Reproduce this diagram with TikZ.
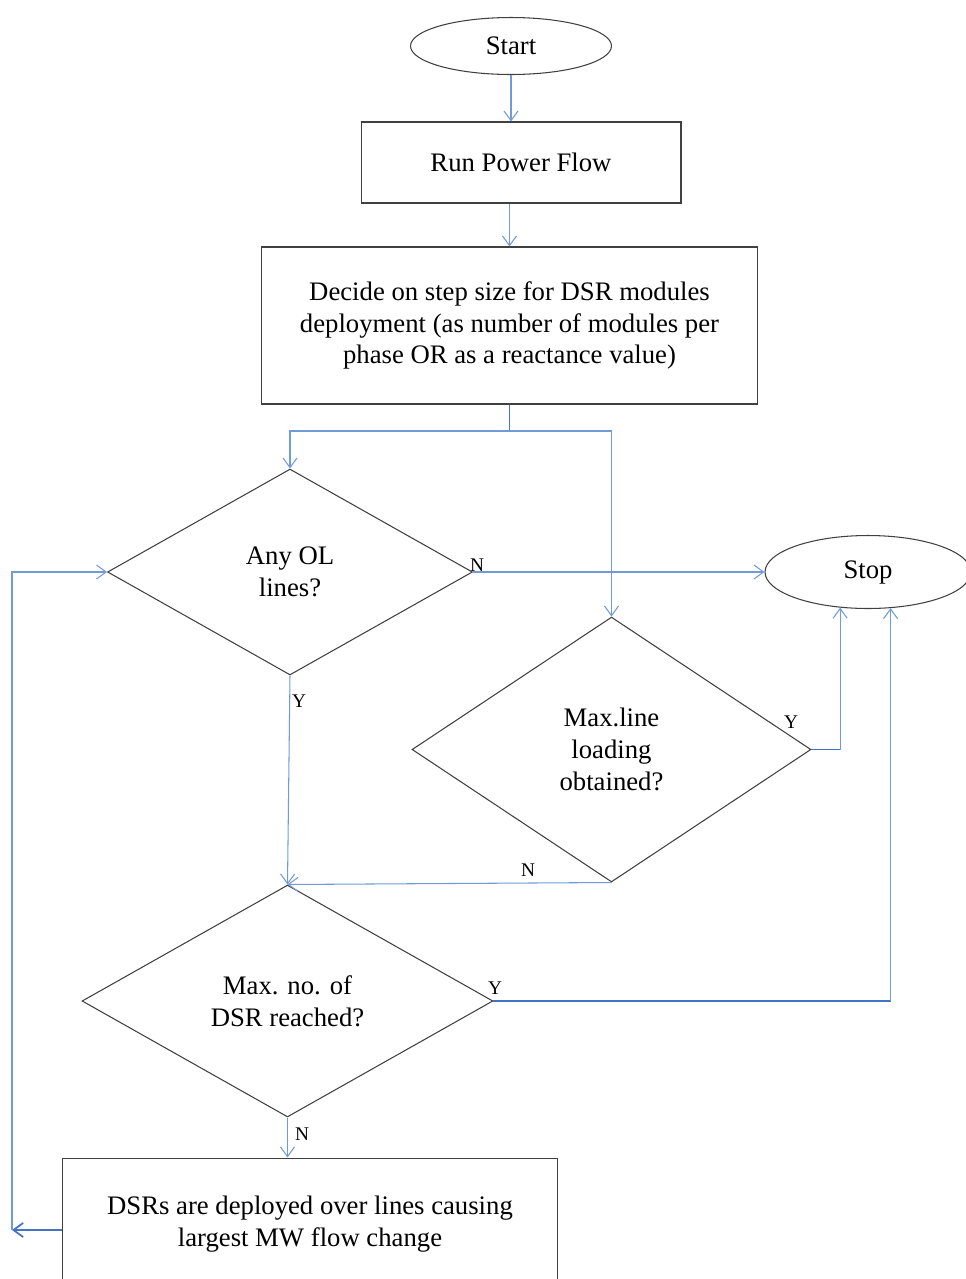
\documentclass[tikz,border=0pt]{standalone}
\usepackage{fontspec}
\setmainfont{Liberation Serif}
\usetikzlibrary{shapes.geometric,arrows.meta}
\definecolor{linkblue}{RGB}{112,155,214}
\definecolor{linkdark}{RGB}{68,114,196}
\tikzset{
  proc/.style={draw=black!75, line width=0.6pt, rectangle, align=center,
    font=\fontsize{15.2}{18}\selectfont},
  term/.style={draw=black!75, line width=0.6pt, ellipse, align=center,
    font=\fontsize{15.2}{18}\selectfont},
  decision/.style={draw=black!75, line width=0.6pt, diamond, aspect=1.6,
    inner sep=1pt, align=center, font=\fontsize{15.2}{18}\selectfont},
  link/.style={draw=linkblue, line width=0.6pt,
    -{Straight Barb[length=5.5pt,width=8pt]}},
  feed/.style={draw=linkdark, line width=1.1pt},
  yn/.style={font=\fontsize{11}{12}\selectfont, inner sep=0pt}
}

\begin{document}
\begin{tikzpicture}[x=0.02cm,y=-0.02cm]
    \clip (0,0) rectangle (966,1279);
    % blocks
    \node[term, minimum width=4.02cm, minimum height=1.14cm] (start) at (511,46) {Start};
    \node[proc, minimum width=6.4cm, minimum height=1.62cm] (pflow) at (521,162.5) {Run Power Flow};
    \node[proc, minimum width=9.94cm, minimum height=3.14cm] (step) at (509.5,325.5)
      {Decide on step size for DSR modules\\deployment (as number of modules per\\phase OR as a reactance value)};
    \node[decision, minimum width=7.3cm, minimum height=4.12cm] (anyol) at (290,572) {Any OL\\lines?};
    \node[term, minimum width=4.12cm, minimum height=1.46cm] (stop) at (868,572) {Stop};
    \node[decision, minimum width=7.98cm, minimum height=5.3cm] (maxline) at (611.5,749.5) {Max.line\\loading\\obtained?};
    \node[decision, minimum width=8.22cm, minimum height=4.64cm] (maxdsr) at (287.5,1001) {Max. no. of\\DSR reached?};
    \node[proc, minimum width=9.92cm, minimum height=2.64cm] (deploy) at (310,1224)
      {DSRs are deployed over lines causing\\largest MW flow change};
    \coordinate (split) at (509.5,431);
    \coordinate (back) at (12,1230);

    % connectors
    \draw[link] (start.south) -- (start.south |- pflow.north);
    \draw[link] (step.north |- pflow.south) -- (step.north);
    \draw[feed, line width=0.8pt] (step.south) -- (split);
    \draw[link] (split) -| (anyol.north);
    \draw[link] (split) -| (maxline.north);
    \draw[link] (anyol.east) -- (stop.west);
    \draw[link] (anyol.south) -- (maxdsr.north);
    \draw[feed] (maxline.east) -- (maxline.east -| stop.232);
    \draw[link] (maxline.east -| stop.232) -- (stop.232);
    \draw[link] (maxline.south) -- (maxdsr.north);
    \draw[feed] (maxdsr.east) -- (maxdsr.east -| stop.-58.8);
    \draw[link] (maxdsr.east -| stop.-58.8) -- (stop.-58.8);
    \draw[link] (maxdsr.south) -- (maxdsr.south |- deploy.north);
    \draw[link, draw=linkdark, line width=1pt] (deploy.west |- back) -- (back);
    \draw[link] (back) |- (anyol.west);

    % answers
    \node[yn] (ansN1) at (477,565) {N};
    \node[yn] (ansY1) at (299,701) {Y};
    \node[yn] (ansY2) at (791,722) {Y};
    \node[yn] (ansN2) at (528,870) {N};
    \node[yn] (ansY3) at (495,988) {Y};
    \node[yn] (ansN3) at (302,1134) {N};
  \end{tikzpicture}
\end{document}
